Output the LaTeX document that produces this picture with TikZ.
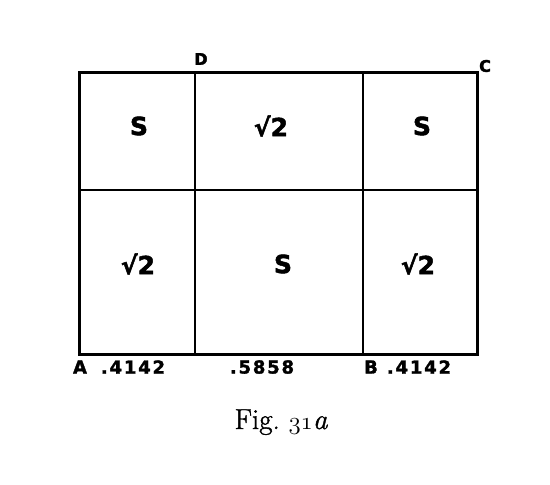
\documentclass[tikz,border=0pt]{standalone}
\usepackage{fontspec}
\newfontfamily\handfont{DejaVu Sans}[FakeBold=2]
\newfontfamily\numfont{DejaVu Sans}[LetterSpace=10,FakeBold=1.5]
\newfontfamily\capfont{Latin Modern Roman}[FakeBold=1.2]
\tikzset{
  outer/.style={line width=3pt},
  inner/.style={line width=2pt},
  cell/.style={font=\handfont\bfseries\fontsize{25}{27}\selectfont, inner sep=0pt},
  corner/.style={font=\handfont\bfseries\fontsize{16}{18}\selectfont, inner sep=0pt},
  meas/.style={font=\numfont\bfseries\fontsize{18}{20}\selectfont, inner sep=0pt},
}
\begin{document}
\begin{tikzpicture}[x=1pt,y=-1pt]
\useasboundingbox (0,0) rectangle (550,485);
\coordinate (A) at (79,354);
\coordinate (C) at (477,72);
\coordinate (D) at (195,72);
\coordinate (Dbot) at (195,354);
\coordinate (Btop) at (363,72);
\coordinate (B) at (363,354);
\coordinate (Lmid) at (79,190);
\coordinate (Rmid) at (477,190);
\draw[outer] (A) rectangle (C);
\draw[inner] (D) -- (Dbot);
\draw[inner] (Btop) -- (B);
\draw[inner] (Lmid) -- (Rmid);
% corner labels
\node[corner] (lD) at (201,59) {D};
\node[corner] (lC) at (485,66) {C};
\node[meas] (lA) at (80,367) {A};
\node[meas] (m1) at (133,367) {.4142};
\node[meas] (m2) at (262,367) {.5858};
\node[meas] (lB) at (371,367) {B};
\node[meas] (m3) at (419,367) {.4142};
% cell labels
\node[cell] (s1) at (139,126) {S};
\node[cell] (r1) at (271,126) {√2};
\node[cell] (s2) at (422,126) {S};
\node[cell] (r2) at (138,264) {√2};
\node[cell] (s3) at (283,264) {S};
\node[cell] (r3) at (418,264) {√2};
% caption
\node[font=\capfont\fontsize{29}{32}\selectfont, anchor=base, inner sep=0pt] (cap) at (281,429)
  {Fig.\ {\usefont{OML}{cmm}{m}{it}\fontsize{31}{32}\selectfont 31}{\capfont\itshape a}};
\end{tikzpicture}
\end{document}
